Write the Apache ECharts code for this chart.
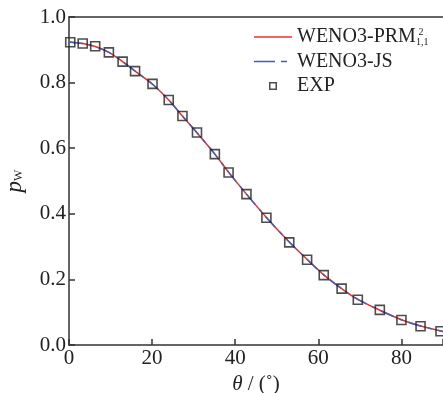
<!DOCTYPE html>
<html><head><meta charset="utf-8">
<script src="https://cdn.jsdelivr.net/npm/echarts@6/dist/echarts.min.js"></script>
<style>html,body{margin:0;padding:0;background:#fff;overflow:hidden}#c{width:443px;height:393px}</style>
</head><body><div id="c"></div>
<script>
var expTheta = [0.3, 3.3, 6.3, 9.6, 12.9, 15.9, 20.1, 24.0, 27.3, 30.8, 35.1, 38.4, 42.7, 47.5, 53.0, 57.3, 61.3, 65.6, 69.5, 74.8, 80.0, 84.6, 89.4];
var expP = [0.923, 0.919, 0.911, 0.892, 0.864, 0.835, 0.796, 0.747, 0.698, 0.648, 0.582, 0.526, 0.460, 0.388, 0.313, 0.260, 0.213, 0.172, 0.138, 0.107, 0.076, 0.057, 0.042];
var curveTheta = [0, 3.3, 6.3, 9.6, 12.9, 15.9, 20.1, 24.0, 27.3, 30.8, 35.1, 38.4, 42.7, 47.5, 53.0, 57.3, 61.3, 65.6, 69.5, 74.8, 80.0, 84.6, 90];
var prmP = [0.924, 0.919, 0.910, 0.892, 0.864, 0.835, 0.795, 0.747, 0.698, 0.647, 0.582, 0.527, 0.460, 0.389, 0.314, 0.261, 0.214, 0.172, 0.139, 0.106, 0.077, 0.058, 0.041];
var jsP = [0.924, 0.919, 0.910, 0.892, 0.864, 0.835, 0.795, 0.747, 0.698, 0.647, 0.582, 0.527, 0.460, 0.389, 0.314, 0.261, 0.214, 0.172, 0.139, 0.106, 0.077, 0.058, 0.041];
var xTicks = [0, 20, 40, 60, 80];
var yTicks = [0.0, 0.2, 0.4, 0.6, 0.8, 1.0];

function pairs(xs, ys){ return xs.map(function(x,i){return [x, ys[i]];}); }
var FONT = 'Liberation Serif';
// legend icons (38x20 box defined by the leading moves)
var ICON_SOLID = 'path://M0,0M38,20M0,9.3h38v1.4h-38z';
var ICON_DASH = 'path://M0,0M38,20M0,9.3h21v1.4h-21zM27,9.3h6v1.4h-6z';
var ICON_SQ = 'path://M0,0M38,20M15,6h8v8h-8zM16.5,7.5v5h5v-5z';
var chart = echarts.init(document.getElementById('c'), null, {renderer:'canvas', width:443, height:393});
chart.setOption({
  animation:false,
  grid:{left:69, top:17, right:0, bottom:48, containLabel:false, outerBoundsMode:'none'},
  legend:{
    orient:'vertical', left:254, top:27, padding:0, itemGap:4.5, itemWidth:38, itemHeight:20, itemSymbolKeepAspect:false,
    textStyle:{fontFamily:FONT, fontSize:20, color:'#222',
      rich:{
        a:{fontFamily:FONT, fontSize:20, color:'#222'},
        sup:{fontFamily:FONT, fontSize:10, color:'#222', width:0, padding:[0,0,10,0]},
        sub:{fontFamily:FONT, fontSize:10, color:'#222', padding:[10,0,0,0]}
      }},
    formatter:function(n){
      if(n==='PRM') return '{a|WENO3-PRM}{sup| 2}{sub|1,1}';
      return n;
    },
    data:[
      {name:'PRM', icon:ICON_SOLID, itemStyle:{color:'#e8302a'}},
      {name:'WENO3-JS', icon:ICON_DASH, itemStyle:{color:'#3f5fbf'}},
      {name:'EXP', icon:ICON_SQ, itemStyle:{color:'#222', borderWidth:0}}
    ]
  },
  xAxis:[{
    type:'value', min:0, max:90, interval:20,
    axisLine:{lineStyle:{color:'#333', width:1.5}},
    axisTick:{inside:true, length:6, lineStyle:{color:'#333', width:1.5}},
    splitLine:{show:false},
    axisLabel:{fontFamily:FONT, fontSize:21, color:'#222', margin:3,
      formatter:function(v){return xTicks.indexOf(v)>=0 ? String(v) : '';}},
    name:'{i|θ}{n| / (˚)}', nameLocation:'middle', nameGap:25,
    nameTextStyle:{rich:{i:{fontFamily:FONT, fontStyle:'italic', fontSize:21, color:'#222'}, n:{fontFamily:FONT, fontSize:21, color:'#222'}}}
  },{
    type:'value', position:'top', min:0, max:90,
    axisLine:{show:true, onZero:false, lineStyle:{color:'#333', width:1.5}},
    axisTick:{show:false}, axisLabel:{show:false}, splitLine:{show:false}
  }],
  yAxis:{
    type:'value', min:0, max:1, interval:0.2,
    axisLine:{show:true, lineStyle:{color:'#333', width:1.5}},
    axisTick:{show:true, inside:true, length:6, lineStyle:{color:'#333', width:1.5}},
    splitLine:{show:false},
    axisLabel:{fontFamily:FONT, fontSize:21, color:'#222', margin:3,
      formatter:function(v){return v.toFixed(1);}},
    name:'{p|p}{w|W}', nameLocation:'middle', nameGap:43, nameRotate:90,
    nameTextStyle:{rich:{p:{fontFamily:FONT, fontStyle:'italic', fontSize:23, color:'#222'}, w:{fontFamily:FONT, fontSize:12, color:'#222', padding:[8,0,0,0]}}}
  },
  series:[
    {name:'PRM', type:'line', data:pairs(curveTheta, prmP), smooth:0.3, showSymbol:false, symbol:'none',
      lineStyle:{color:'#e8302a', width:1.5}, itemStyle:{color:'#e8302a'}, z:2},
    {name:'WENO3-JS', type:'line', data:pairs(curveTheta, jsP), smooth:0.3, showSymbol:false, symbol:'none',
      lineStyle:{color:'#3f5fbf', width:1.5, type:[14,6,4,6]}, itemStyle:{color:'#3f5fbf'}, z:3},
    {name:'EXP', type:'scatter', data:pairs(expTheta, expP), symbol:'rect', symbolSize:9,
      itemStyle:{color:'transparent', borderColor:'#222', borderWidth:1.6}, z:4}
  ]
});
</script></body></html>
